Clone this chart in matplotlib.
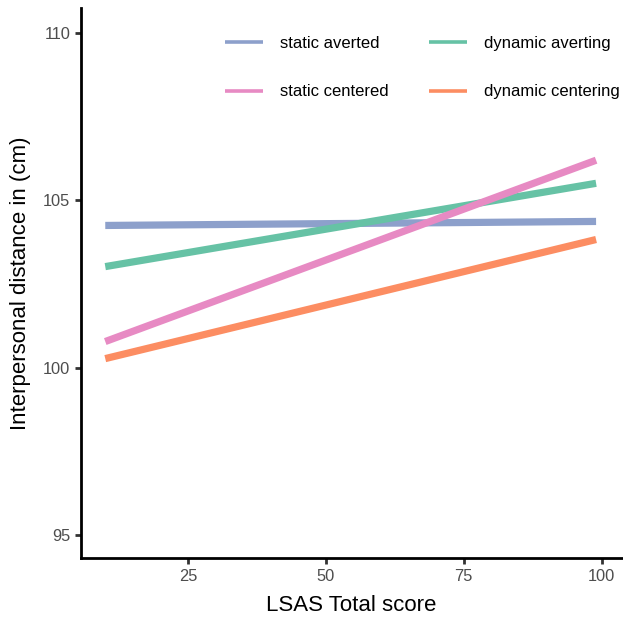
import matplotlib
matplotlib.use("Agg")
import matplotlib.pyplot as plt

plt.rcParams['font.family'] = ['Liberation Sans', 'DejaVu Sans']

# Model predictions: interpersonal distance vs LSAS total score
lsas = [10, 99]
conditions = ["static averted", "static centered", "dynamic averting", "dynamic centering"]
distance = {
    "static averted": [104.25, 104.37],
    "static centered": [100.78, 106.20],
    "dynamic averting": [103.02, 105.51],
    "dynamic centering": [100.27, 103.83],
}
colors = {
    "static averted": "#8DA0CB",
    "static centered": "#E78AC3",
    "dynamic averting": "#66C2A5",
    "dynamic centering": "#FC8D62",
}
draw_order = ["static averted", "dynamic averting", "dynamic centering", "static centered"]
x_ticks = [25, 50, 75, 100]
y_ticks = [95, 100, 105, 110]

fig = plt.figure(figsize=(6.23, 6.22), dpi=100)
ax = fig.add_axes([81 / 623, 1 - 558 / 622, 541 / 623, 550 / 622])

handles = {}
for name in draw_order:
    (ln,) = ax.plot(lsas, distance[name], color=colors[name], lw=5.2,
                    solid_capstyle="butt", label=name)
    handles[name] = ln

ax.set_xlim(5.6, 103.7)
ax.set_ylim(94.31, 110.75)
ax.set_xticks(x_ticks)
ax.set_yticks(y_ticks)

for side in ["top", "right"]:
    ax.spines[side].set_visible(False)
for side in ["left", "bottom"]:
    ax.spines[side].set_linewidth(2.0)
    ax.spines[side].set_color("black")
ax.tick_params(axis="both", length=4.2, width=2.0, color="#333333",
               labelsize=11.8, labelcolor="#4D4D4D", pad=3.5)

ax.set_xlabel("LSAS Total score", fontsize=16, labelpad=8)
ax.set_ylabel("Interpersonal distance in (cm)", fontsize=16, labelpad=9)

leg = ax.legend([handles[n] for n in conditions], conditions, ncol=2,
                loc="upper left", bbox_to_anchor=(210 / 623, 1 - 21 / 622),
                bbox_transform=fig.transFigure,
                frameon=False, fontsize=12, handlelength=2.3,
                handletextpad=1.0, columnspacing=2.4, labelspacing=2.0,
                borderpad=0.4)
for lh in leg.get_lines():
    lh.set_linewidth(2.6)

fig.savefig("out.png", dpi=100)
